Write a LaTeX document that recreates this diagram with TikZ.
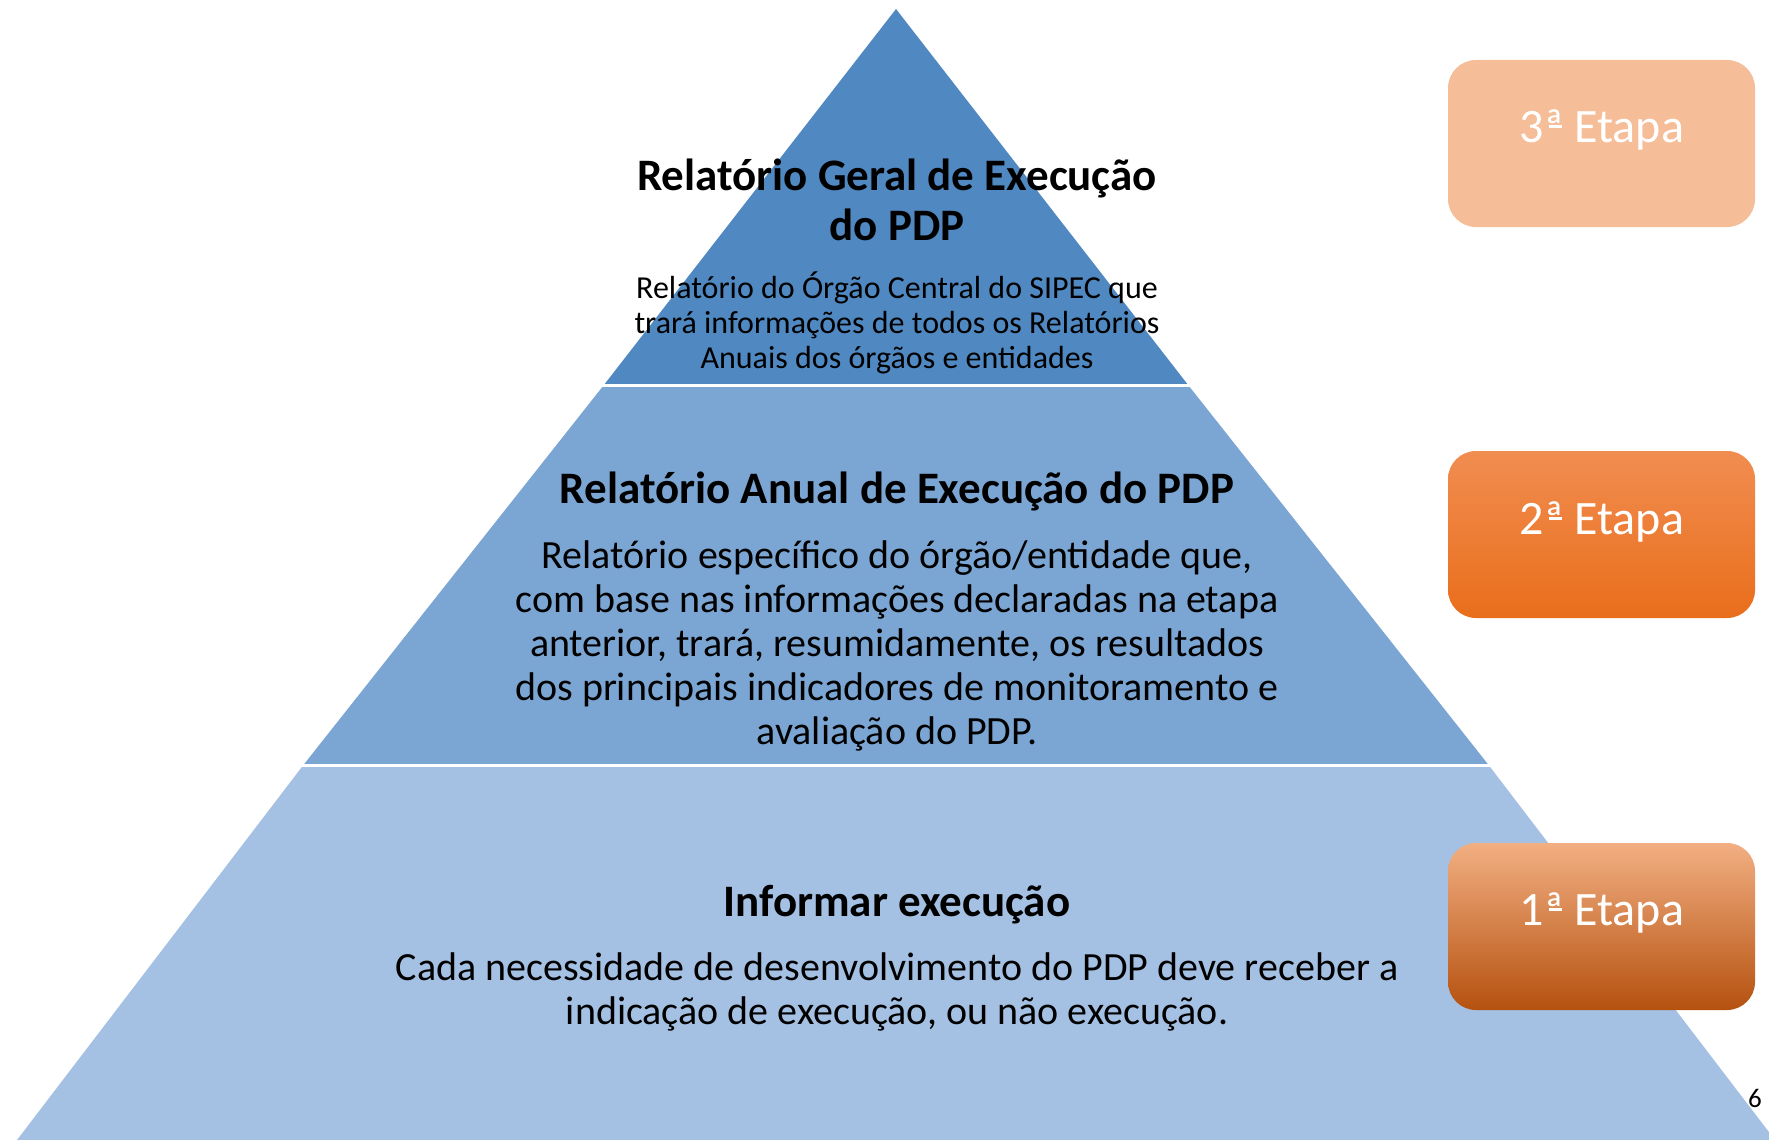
\documentclass[tikz,border=0pt]{standalone}
\usepackage{fontspec}
\setmainfont{Carlito}

\definecolor{toplayer}{HTML}{5088C1}
\definecolor{midlayer}{HTML}{7BA5D2}
\definecolor{baselayer}{HTML}{A4C0E3}
\definecolor{etapalight}{HTML}{F5BD98}
\definecolor{etapamidtop}{HTML}{F18D51}
\definecolor{etapamidbot}{HTML}{E96E1B}
\definecolor{etapalowtop}{HTML}{F2AF82}
\definecolor{etapalowmid}{HTML}{EF8640}
\definecolor{etapalowbot}{HTML}{B5510F}

% underlined ordinal mark as the slide shows it
\newcommand{\ordmark}{ª\llap{\rule[0.31em]{0.27em}{0.05em}\hspace{0.03em}}}

\begin{document}
\begin{tikzpicture}[x=1pt, y=-1pt,
  layertitle/.style={font=\bfseries\fontsize{45}{50}\selectfont, align=center, inner sep=0pt},
  layertext/.style={font=\fontsize{40}{44}\selectfont, align=center, inner sep=0pt},
  etapabox/.style={rounded corners=28pt, minimum width=307pt, minimum height=167pt, inner sep=0pt},
  etapalabel/.style={text=white, font=\fontsize{48}{52}\selectfont, inner sep=0pt}]
  \useasboundingbox (0, 0) rectangle (1769, 1140);
  % draw fills so the gaps sit on top of them
  \fill [fill=toplayer] (896, 9) -- (1188.5, 385.5) -- (603.5, 385.5) -- cycle;
  \fill [fill=midlayer] (603.5, 385.5) -- (1188.5, 385.5) -- (1489, 765.5) -- (303, 765.5) -- cycle;
  \fill [fill=baselayer] (303, 765.5) -- (1489, 765.5) -- (1775, 1140) -- (17, 1140) -- cycle;
  % Draw gaps between layers
  \draw [line width=3.5pt, white] (590, 385.5) -- (1200, 385.5);
  \draw [line width=3.5pt, white] (290, 765.5) -- (1500, 765.5);
  % Draw etapa boxes
  \node (etapa3) [etapabox, fill=etapalight] at (1601.5, 143.5) {};
  \node (etapa2) [etapabox, top color=etapamidtop, bottom color=etapamidbot] at (1601.5, 534.5) {};
  \node (etapa1) [etapabox, top color=etapalowtop, middle color=etapalowmid, bottom color=etapalowbot] at (1601.5, 926.5) {};
  % Add labels
  \node (toptitle) [layertitle] at (897, 200) {Relatório Geral de Execução\\do PDP};
  \node (toptext) [layertext, font=\fontsize{32}{35}\selectfont] at (897, 323) {Relatório do Órgão Central do SIPEC que\\trará informações de todos os Relatórios\\Anuais dos órgãos e entidades};
  \node (midtitle) [layertitle] at (897, 491) {Relatório Anual de Execução do PDP};
  \node (midtext) [layertext] at (897, 646) {Relatório específico do órgão/entidade que,\\com base nas informações declaradas na etapa\\anterior, trará, resumidamente, os resultados\\dos principais indicadores de monitoramento e\\avaliação do PDP.};
  \node (basetitle) [layertitle] at (897, 905) {Informar execução};
  \node (basetext) [layertext] at (897, 992) {Cada necessidade de desenvolvimento do PDP deve receber a\\indicação de execução, ou não execução.};
  \node (label3) [etapalabel] at (1602, 130) {3\ordmark{} Etapa};
  \node (label2) [etapalabel] at (1602, 522) {2\ordmark{} Etapa};
  \node (label1) [etapalabel] at (1602, 913) {1\ordmark{} Etapa};
  \node (pagenum) [font=\fontsize{27}{30}\selectfont, inner sep=0pt] at (1755, 1098) {6};
\end{tikzpicture}
\end{document}
